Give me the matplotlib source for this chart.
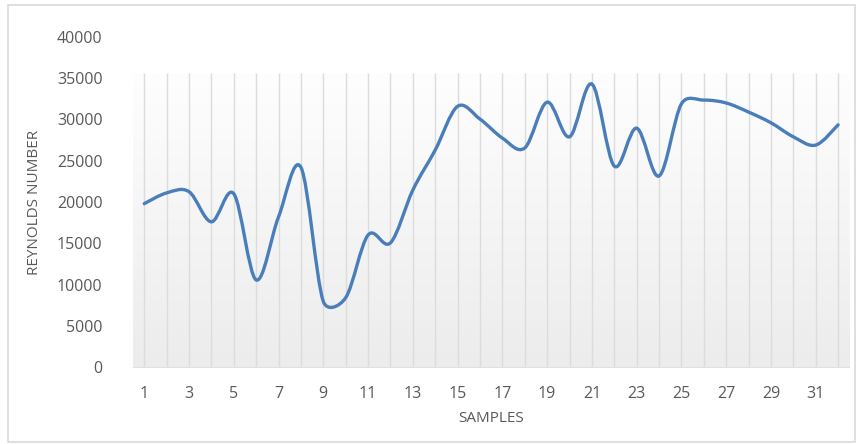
import numpy as np
import matplotlib
matplotlib.use("Agg")
import matplotlib.pyplot as plt
from matplotlib.path import Path
from matplotlib.patches import PathPatch, Rectangle
from matplotlib.colors import LinearSegmentedColormap

samples = list(range(1, 33))
reynolds = [19800, 21100, 21250, 17600, 21000, 10550, 18200, 24200,
            7950, 8400, 16000, 15050, 21450, 26300, 31600, 30050,
            27750, 26550, 32100, 27900, 34300, 24350, 28950, 23150,
            31900, 32350, 32000, 30900, 29600, 27900, 26900, 29350]
y_ticks = [0, 5000, 10000, 15000, 20000, 25000, 30000, 35000, 40000]
x_ticks = list(range(1, 33, 2))
plot_area_top = 35600

plt.rcParams['font.family'] = ['Open Sans', 'DejaVu Sans']

fig = plt.figure(figsize=(8.64, 4.44), dpi=100)
ax = fig.add_axes([0.154, 0.1734, 0.829, 0.7433])

# light frame around the whole chart
fig.patches.append(Rectangle((0.009, 0.005), 0.981, 0.984, transform=fig.transFigure,
                             fill=False, edgecolor='#d9d9d9', linewidth=1.2))

ax.set_xlim(0.5, 32.5)
ax.set_ylim(0, 40000)

# plot area gradient, near white at top fading to light grey
grad = np.linspace(1.0, 0.0, 256).reshape(-1, 1)
ax.imshow(grad, cmap=LinearSegmentedColormap.from_list('bg', ['#ececec', '#fefefe']),
          aspect='auto', extent=(0.5, 32.5, 0, plot_area_top), origin='upper', zorder=0)

ax.vlines(samples, 0, plot_area_top, color='#dcdcdc', linewidth=1.0, zorder=1)

# smoothed line: Catmull-Rom handles in screen space, each handle
# capped at half the length of the segment it points along
pts = ax.transData.transform(np.column_stack([samples, reynolds]).astype(float))
n = len(pts)
cap = 0.5


def handle(i, j):
    v = (pts[min(i + 1, n - 1)] - pts[max(i - 1, 0)]) / 6.0
    if j < i:
        v = -v
    seg = np.hypot(*(pts[j] - pts[i]))
    length = np.hypot(*v)
    if length > cap * seg:
        v = v * cap * seg / length
    return pts[i] + v


verts = [tuple(pts[0])]
codes = [Path.MOVETO]
for i in range(n - 1):
    verts += [tuple(handle(i, i + 1)), tuple(handle(i + 1, i)), tuple(pts[i + 1])]
    codes += [Path.CURVE4] * 3
data_verts = ax.transData.inverted().transform(np.array(verts))
ax.add_patch(PathPatch(Path(data_verts, codes), facecolor='none', edgecolor='#4a7ebb',
                       linewidth=2.4, capstyle='round', joinstyle='round', zorder=3))

for side in ['left', 'right', 'top']:
    ax.spines[side].set_visible(False)
ax.spines['bottom'].set_color('#e0e0e0')

ax.set_yticks(y_ticks)
ax.set_xticks(x_ticks)
ax.tick_params(axis='both', length=0, labelsize=11.5, labelcolor='#595959')
ax.tick_params(axis='y', pad=22)
ax.tick_params(axis='x', pad=14)

ax.set_xlabel('SAMPLES', fontsize=11, color='#595959', labelpad=6)
ax.set_ylabel('REYNOLDS NUMBER', fontsize=11, color='#595959', labelpad=11)

fig.savefig('out.png', dpi=100)
